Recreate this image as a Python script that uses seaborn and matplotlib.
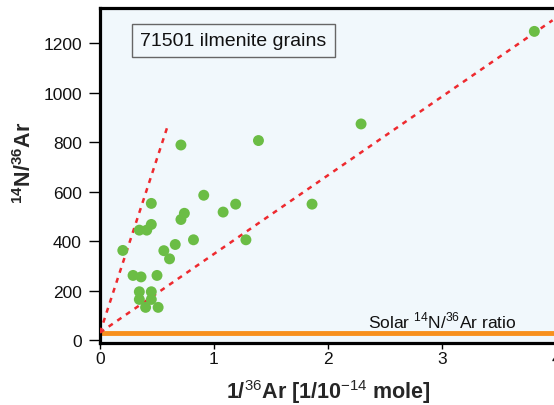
import matplotlib
matplotlib.use("Agg")
import matplotlib.pyplot as plt
import seaborn as sns
import pandas as pd

# data
inv_ar = [0.20, 0.29, 0.36, 0.50, 0.345, 0.41, 0.45, 0.45, 0.56, 0.61, 0.66,
          0.345, 0.45, 0.345, 0.45, 0.40, 0.51, 0.71, 0.74, 0.82, 0.91, 1.08,
          1.19, 1.28, 1.86, 0.71, 1.39, 2.29, 3.81]
n_ar = [362, 261, 255, 261, 444, 444, 467, 552, 361, 328, 386,
        195, 195, 164, 164, 132, 132, 487, 512, 405, 585, 517,
        549, 405, 549, 788, 806, 873, 1247]
line1_x = [0.0, 0.59]
line1_y = [30, 860]
line2_x = [0.0, 3.97]
line2_y = [30, 1292]
solar_ratio = 29
x_ticks = [0, 1, 2, 3, 4]
y_ticks = [0, 200, 400, 600, 800, 1000, 1200]

sns.set_theme(style="white")
plt.rcParams['font.family'] = ['Liberation Sans', 'DejaVu Sans']
plt.rcParams['mathtext.fontset'] = 'custom'
plt.rcParams['mathtext.rm'] = 'Liberation Sans'
plt.rcParams['mathtext.bf'] = 'Liberation Sans:bold'

W, H = 554, 406
fig = plt.figure(figsize=(W / 100, H / 100), dpi=100)
ax = fig.add_axes([100 / W, 62 / H, 456 / W, 335 / H])
ax.set_facecolor('#f1f8fc')

df = pd.DataFrame({'x': inv_ar, 'y': n_ar})

ax.axhline(solar_ratio, color='#f7901e', lw=3.5, zorder=2)
sns.lineplot(x=line1_x, y=line1_y, ax=ax, color='#ee2a2f', lw=1.8,
             linestyle=(0, (2, 2.2)), zorder=3)
sns.lineplot(x=line2_x, y=line2_y, ax=ax, color='#ee2a2f', lw=1.8,
             linestyle=(0, (2, 2.2)), zorder=3)
sns.scatterplot(data=df, x='x', y='y', ax=ax, color='#6bbd45', s=62,
                edgecolor='none', zorder=4)

ax.set_xlim(0, 4)
ax.set_ylim(-12, 1341.5)
ax.set_xticks(x_ticks)
ax.set_yticks(y_ticks)
ax.set_xticklabels([str(t) for t in x_ticks], fontsize=12.5, color='#111111')
ax.set_yticklabels([str(t) for t in y_ticks], fontsize=12.5, color='#111111')
ax.tick_params(axis='y', direction='out', length=8, width=1, color='black', pad=5, left=True)
ax.tick_params(axis='x', direction='out', length=4, width=1, color='black', pad=2, bottom=True)

for s in ax.spines.values():
    s.set_color('black')
    s.set_linewidth(2.3)

ax.set_xlabel(r'1/$^{36}$Ar [1/10$^{-14}$ mole]', fontsize=15.5, fontweight='bold', labelpad=8)
ax.set_ylabel(r'$^{\mathbf{14}}$N/$^{\mathbf{36}}$Ar', fontsize=15.5, fontweight='bold')
ax.yaxis.set_label_coords(-0.14, 0.54)

ax.text(0.355, 1210, '71501 ilmenite grains', fontsize=14, color='#111111',
        va='center', ha='left',
        bbox=dict(boxstyle='square,pad=0.42', facecolor='none', edgecolor='#666666', lw=1))
ax.text(3.0, 82, r'Solar $^{14}$N/$^{36}$Ar ratio', fontsize=12.5, color='#111111',
        ha='center', va='center')

fig.savefig('out.png', dpi=100)
